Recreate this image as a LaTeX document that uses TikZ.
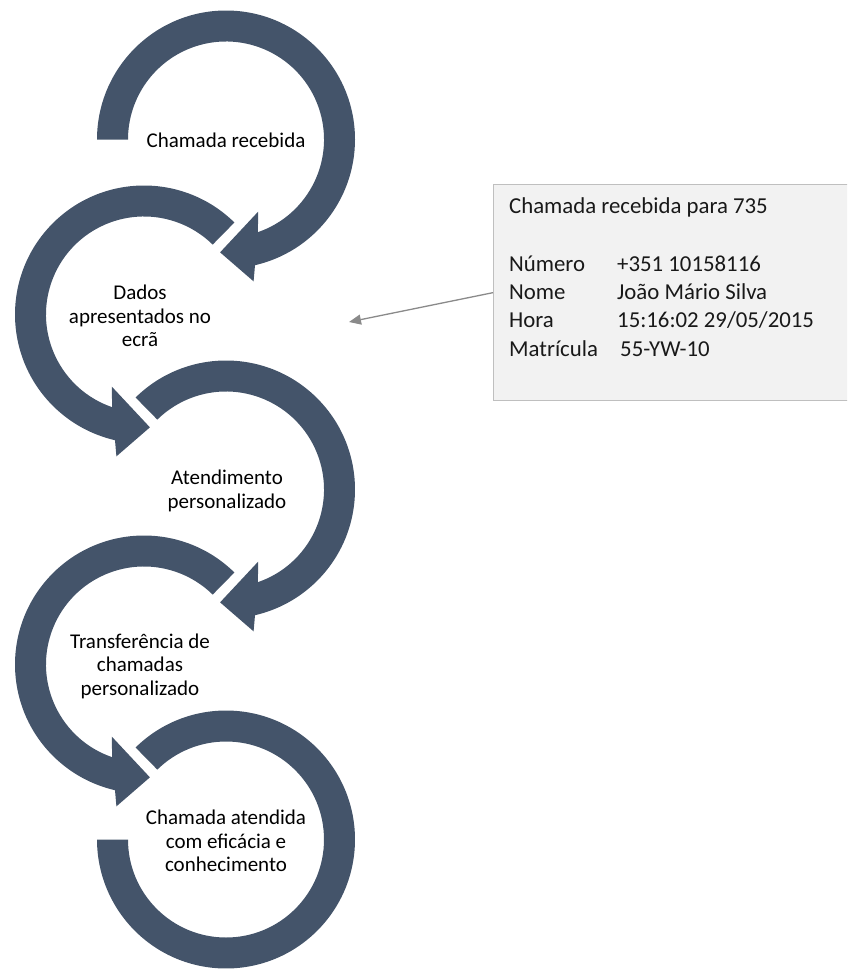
\documentclass[tikz,border=0pt]{standalone}
\usepackage{fontspec}
\setmainfont{Carlito}
\usetikzlibrary{arrows.meta}
\definecolor{ringcol}{HTML}{44546A}
\definecolor{boxfill}{HTML}{F2F2F2}
\definecolor{boxline}{HTML}{BFBFBF}
\definecolor{calloutcol}{HTML}{8A8A8A}
\newcommand\cwring[2]{%
  \fill[ringcol,shift={#1}] (#2:129) arc[start angle=#2, end angle=-77, radius=129]
    -- (-79:144.5) -- (-93:113) -- (-66:79) -- (-71:98)
    arc[start angle=-71, end angle=#2, radius=98] -- cycle;}
\newcommand\ccwring[2]{%
  \fill[ringcol,shift={#1}] (#2:129) arc[start angle=#2, end angle=257, radius=129]
    -- (259:144.5) -- (273:113) -- (246:79) -- (251:98)
    arc[start angle=251, end angle=#2, radius=98] -- cycle;}
\begin{document}
\begin{tikzpicture}[x=1pt,y=1pt,
  steplabel/.style={align=center, font=\fontsize{21}{23.5}\selectfont, text=black, inner sep=0pt},
  boxstyle/.style={draw=boxline, fill=boxfill, line width=1.3pt, inner sep=0pt},
  boxtext/.style={anchor=base west, font=\fontsize{22.8}{25}\selectfont, text=black!90, inner sep=0pt},
  callout/.style={draw=calloutcol, line width=1.3pt, -{Triangle[length=12pt,width=10pt]}}]
\clip (0,0) rectangle (847,-969);
% rings
\cwring{(226,-139.5)}{180}
\ccwring{(144,-314.5)}{45.5}
\cwring{(226,-489.5)}{134.5}
\ccwring{(144,-664.5)}{45.5}
\fill[ringcol,shift={(226,-839.5)}] (134.5:129) arc[start angle=134.5, end angle=-180, radius=129]
  -- (-180:98) arc[start angle=-180, end angle=134.5, radius=98] -- cycle;
% labels
\node[steplabel] (t1) at (226,-140) {Chamada recebida};
\node[steplabel] (t2) at (140,-316) {Dados\\apresentados no\\ecrã};
\node[steplabel] (t3) at (227,-491) {Atendimento\\personalizado};
\node[steplabel] (t4) at (140,-666) {Transferência de\\chamadas\\personalizado};
\node[steplabel] (t5) at (226,-841) {Chamada atendida\\com eficácia e\\conhecimento};
% callout box
\node[boxstyle, anchor=north west, minimum width=360pt, minimum height=216pt] (box) at (493,-184) {};
\node[boxtext] (h) at (509,-213) {Chamada recebida para 735};
\node[boxtext] (l1) at (509,-271) {Número};
\node[boxtext] (v1) at (617,-271) {+351 10158116};
\node[boxtext] (l2) at (509,-299.3) {Nome};
\node[boxtext] (v2) at (617,-299.3) {João Mário Silva};
\node[boxtext] (l3) at (509,-327.7) {Hora};
\node[boxtext] (v3) at (617,-327.7) {15:16:02 29/05/2015};
\node[boxtext] (l4) at (509,-356) {Matrícula};
\node[boxtext] (v4) at (620,-356) {55-YW-10};
\coordinate (ctip) at (349,-322);
\draw[callout] (box.west) -- (ctip);
\end{tikzpicture}
\end{document}
